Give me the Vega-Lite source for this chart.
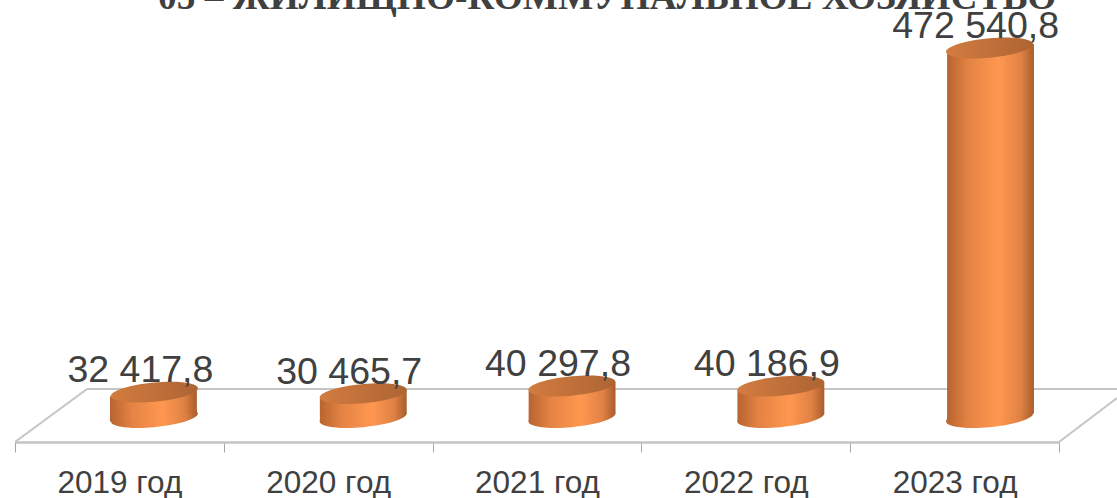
{
"$schema":"https://vega.github.io/schema/vega-lite/v6.json",
"width":1044,"height":442,
"autosize":{"type":"none"},
"padding":{"left":15,"top":0,"right":58,"bottom":56},
"background":"white",
"config":{"view":{"stroke":null}},
"title":{"text":"05 – ЖИЛИЩНО-КОММУНАЛЬНОЕ ХОЗЯЙСТВО","font":"Liberation Serif","fontWeight":"bold","fontSize":37.4,"color":"#404040","anchor":"start","frame":"group","dx":143,"dy":46,"offset":0,"baseline":"alphabetic"},
"datasets":{
"bars":[
{"year":"2019 год","value":32417.8,"label":"32 417,8"},
{"year":"2020 год","value":30465.7,"label":"30 465,7"},
{"year":"2021 год","value":40297.8,"label":"40 297,8"},
{"year":"2022 год","value":40186.9,"label":"40 186,9"},
{"year":"2023 год","value":472540.8,"label":"472 540,8"}],
"bodies":[
{"year":"2019 год","u":0.455,"top":27300,"base":-5100},{"year":"2019 год","u":0.871,"top":37500,"base":5100},
{"year":"2020 год","u":1.46,"top":25350,"base":-5100},{"year":"2020 год","u":1.876,"top":35550,"base":5100},
{"year":"2021 год","u":2.46,"top":35200,"base":-5100},{"year":"2021 год","u":2.876,"top":45400,"base":5100},
{"year":"2022 год","u":3.46,"top":35100,"base":-5100},{"year":"2022 год","u":3.876,"top":45300,"base":5100},
{"year":"2023 год","u":4.464,"top":467440,"base":-5100},{"year":"2023 год","u":4.88,"top":477640,"base":5100}],
"floor":[
{"seg":"back","u":0.345,"v":36445},{"seg":"back","u":5.278,"v":36445},
{"seg":"left","u":0,"v":-31330},{"seg":"left","u":0.345,"v":36445},
{"seg":"right","u":5,"v":-31330},{"seg":"right","u":5.278,"v":24936}]
},
"resolve":{"scale":{"x":"independent"}},
"layer":[
{"layer":[
 {"data":{"name":"floor"},
  "mark":{"type":"line","color":"#c4c4c4","strokeWidth":2,"clip":false},
  "encoding":{
   "x":{"field":"u","type":"quantitative","scale":{"domain":[0,5],"nice":false,"zero":false},"axis":null},
   "y":{"field":"v","type":"quantitative","scale":{"domain":[-31330,533900],"nice":false,"zero":false},"axis":null},
   "detail":{"field":"seg"}}}
]},
{"data":{"name":"bars"},
 "encoding":{
  "x":{"field":"year","type":"nominal","sort":null,"scale":{"type":"band","paddingInner":0,"paddingOuter":0},
   "axis":{"title":null,"labelAngle":0,"labelFont":"Liberation Sans","labelFontSize":31.5,"labelColor":"#404040","labelPadding":15,"tickBand":"extent","tickSize":10,"tickColor":"#a6a6a6","tickWidth":1,"domainColor":"#c4c4c4","domainWidth":2.5,"grid":false}}},
 "layer":[
  {"mark":{"type":"point","filled":true,"opacity":1,"size":7569,"xOffset":35,"strokeWidth":0,
    "shape":"M1,-0.09C1,0.0326,0.5523,0.1723,0,0.222C-0.5523,0.2717,-1,0.2126,-1,0.09C-1,-0.0326,-0.5523,-0.1723,0,-0.222C0.5523,-0.2717,1,-0.2126,1,-0.09Z",
    "fill":{"gradient":"linear","x1":0,"x2":1,"y1":0,"y2":0,"stops":[{"offset":0,"color":"#b8642f"},{"offset":0.25,"color":"#e48344"},{"offset":0.6,"color":"#ff9750"},{"offset":0.85,"color":"#e08245"},{"offset":1,"color":"#a95d2c"}]}},
   "encoding":{"y":{"datum":0,"type":"quantitative"}}}
 ]},
{"layer":[
 {"data":{"name":"bodies"},
  "mark":{"type":"area","clip":false,"orient":"vertical",
    "fill":{"gradient":"linear","x1":0,"x2":1,"y1":0,"y2":0,"stops":[{"offset":0,"color":"#b8642f"},{"offset":0.25,"color":"#e48344"},{"offset":0.6,"color":"#ff9750"},{"offset":0.85,"color":"#e08245"},{"offset":1,"color":"#a95d2c"}]}},
  "encoding":{
   "x":{"field":"u","type":"quantitative","scale":{"domain":[0,5],"nice":false,"zero":false},"axis":null},
   "y":{"field":"top","type":"quantitative","stack":null},
   "y2":{"field":"base"},
   "detail":{"field":"year"}}}
]},
{"data":{"name":"bars"},
 "encoding":{
  "x":{"field":"year","type":"nominal","sort":null,"scale":{"type":"band","paddingInner":0,"paddingOuter":0},"axis":null}},
 "layer":[
  {"mark":{"type":"point","filled":true,"opacity":1,"size":7569,"xOffset":35,"strokeWidth":0,
    "shape":"M1,-0.09C1,0.0326,0.5523,0.1723,0,0.222C-0.5523,0.2717,-1,0.2126,-1,0.09C-1,-0.0326,-0.5523,-0.1723,0,-0.222C0.5523,-0.2717,1,-0.2126,1,-0.09Z",
    "fill":{"gradient":"linear","x1":0,"x2":1,"y1":0,"y2":0,"stops":[{"offset":0,"color":"#d27c40"},{"offset":1,"color":"#ad6433"}]}},
   "encoding":{"y":{"field":"value","type":"quantitative"}}},
  {"mark":{"type":"text","font":"Liberation Sans","fontSize":37.5,"color":"#404040","dx":21,"dy":-10,"baseline":"alphabetic","align":"center"},
   "encoding":{"y":{"field":"value","type":"quantitative"},"text":{"field":"label","type":"nominal"}}}
 ]}
]
}
